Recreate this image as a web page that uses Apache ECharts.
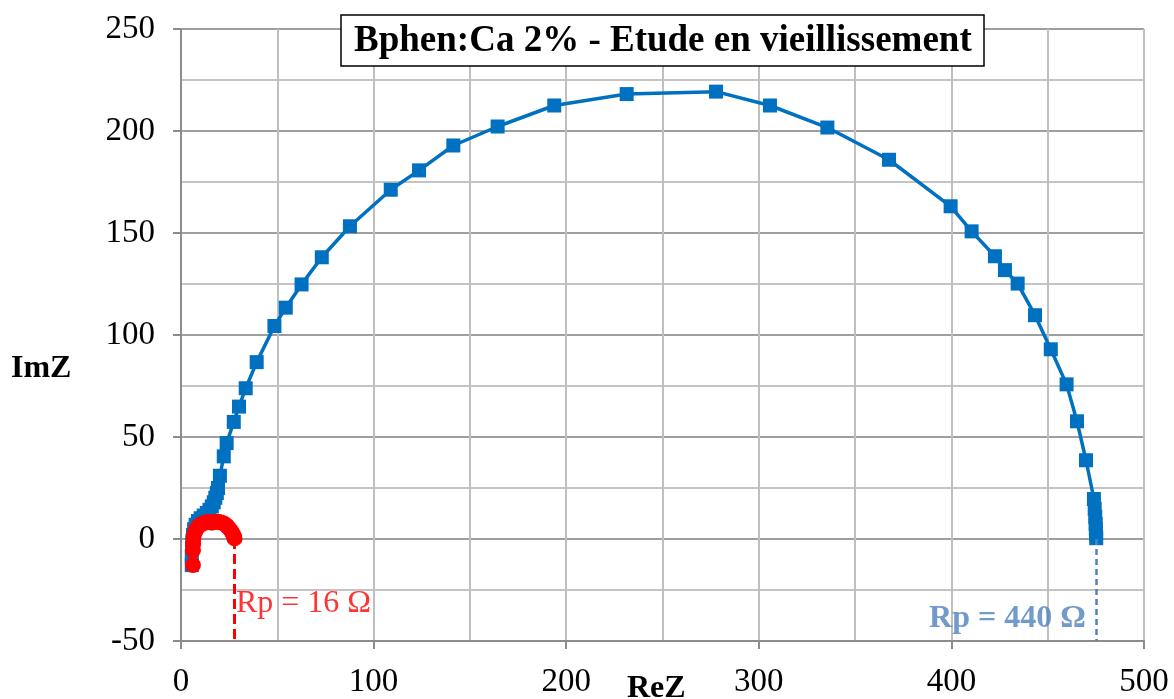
<!DOCTYPE html>
<html>
<head>
<meta charset="utf-8">
<script src="https://cdn.jsdelivr.net/npm/echarts@6/dist/echarts.min.js"></script>
<style>
  html, body { margin: 0; padding: 0; background: #fff; }
  #chart { width: 1174px; height: 699px; }
</style>
</head>
<body>
<div id="chart"></div>
<script>
// Nyquist data: real part (ReZ) and imaginary part (ImZ), in ohms
const blueRe = [5.6, 5.6, 5.7, 5.9, 6.2, 6.8, 7.6, 8.8, 10.2, 11.8, 13.4, 14.8, 16.0, 17.0, 17.8, 18.6, 19.2, 20.2, 22.2, 23.7, 27.4, 30.1, 33.6, 39.3, 48.5, 54.4, 62.6, 73.1, 87.7, 108.9, 123.6, 141.4, 164.4, 193.8, 231.4, 277.8, 305.8, 335.6, 367.6, 399.6, 410.5, 422.6, 427.8, 434.4, 443.4, 451.6, 459.8, 465.2, 469.9, 474.0, 474.4, 474.7, 474.9, 475.0, 475.1, 475.2];
const blueIm = [-12.8, -8.5, -4.5, -1.0, 2.0, 4.8, 7.0, 8.8, 10.2, 11.5, 12.8, 14.3, 16.0, 18.0, 20.2, 22.5, 25.0, 31.0, 40.5, 47.0, 57.4, 64.9, 73.9, 86.7, 104.4, 113.4, 124.8, 138.1, 153.3, 171.2, 180.7, 192.9, 202.2, 212.5, 218.1, 219.3, 212.5, 201.7, 185.9, 163.1, 150.8, 138.6, 131.8, 125.2, 109.7, 93.0, 75.8, 57.7, 38.6, 19.6, 14.8, 10.9, 7.4, 4.8, 2.4, 0.4];

const redRe = [6.2, 6.2, 6.3, 6.4, 6.8, 7.6, 8.6, 9.8, 11.2, 12.8, 14.4, 16.0, 17.6, 19.2, 20.8, 22.4, 23.8, 25.0, 26.1, 27.0, 27.5, 27.8];
const redIm = [-12.8, -5.5, -2.5, 0.0, 2.3, 4.2, 5.7, 6.8, 7.6, 8.1, 8.3, 8.0, 8.3, 8.4, 8.1, 7.5, 6.5, 5.2, 3.8, 2.4, 1.2, 0.3];

// end of each semicircle on the real axis, and the Rp annotations
const redEnd = 27.8;
const blueEnd = 475.1;
const redLabel = 'Rp = 16 Ω';
const blueLabel = 'Rp = 440 Ω';
const redLabelPos = [28.5, -31.8];
const blueLabelPos = [388.4, -39.1];

const xTicks = [0, 100, 200, 300, 400, 500];
const yTicks = [-50, 0, 50, 100, 150, 200, 250];

const titleText = 'Bphen:Ca 2% - Etude en vieillissement';
const xName = 'ReZ';
const yName = 'ImZ';

const zip = (a, b) => a.map((v, i) => [v, b[i]]);

const FONT = '"Liberation Serif", "Times New Roman", serif';
const BLUE = '#0070C0';
const RED = '#FF0000';
const RP_BLUE = '#4F81BD';

const chart = echarts.init(document.getElementById('chart'), null, { renderer: 'canvas' });

chart.setOption({
  animation: false,
  backgroundColor: '#fff',
  title: {
    text: titleText,
    left: 341,
    top: 15,
    padding: [6, 13, 5, 13],
    borderColor: '#000',
    borderWidth: 1.5,
    backgroundColor: '#fff',
    textStyle: { fontFamily: FONT, fontWeight: 'bold', fontSize: 37, lineHeight: 40, color: '#000' }
  },
  grid: { left: 181, right: 30, top: 29, bottom: 57, containLabel: false },
  xAxis: {
    type: 'value',
    min: xTicks[0],
    max: xTicks[xTicks.length - 1],
    interval: 100,
    axisLine: { onZero: false, lineStyle: { color: '#8c8c8c', width: 2 } },
    axisTick: { show: true, length: 8, lineStyle: { color: '#8c8c8c', width: 2 } },
    axisLabel: { margin: 25, fontFamily: FONT, fontSize: 33, color: '#000' },
    splitLine: { show: true, lineStyle: { color: '#bfbfbf', width: 2 } },
    minorTick: { show: false, splitNumber: 2 },
    minorSplitLine: { show: true, lineStyle: { color: '#bfbfbf', width: 2 } }
  },
  yAxis: {
    type: 'value',
    min: yTicks[0],
    max: yTicks[yTicks.length - 1],
    interval: 50,
    axisLine: { show: true, onZero: false, lineStyle: { color: '#8c8c8c', width: 2 } },
    axisTick: { show: true, length: 8, lineStyle: { color: '#8c8c8c', width: 2 } },
    axisLabel: { margin: 26, fontFamily: FONT, fontSize: 33, color: '#000' },
    splitLine: { show: true, lineStyle: { color: '#9e9e9e', width: 2 } },
    minorTick: { show: false, splitNumber: 2 },
    minorSplitLine: { show: true, lineStyle: { color: '#c4c4c4', width: 2 } }
  },
  graphic: [
    { type: 'text', left: 11, top: 353, style: { text: yName, fontFamily: FONT, fontWeight: 'bold', fontSize: 32, fill: '#000' } },
    { type: 'text', left: 627, top: 673, style: { text: xName, fontFamily: FONT, fontWeight: 'bold', fontSize: 32, fill: '#000' } }
  ],
  series: [
    {
      name: 'blue',
      type: 'line',
      data: zip(blueRe, blueIm),
      symbol: 'rect',
      symbolSize: 14,
      showAllSymbol: true,
      lineStyle: { color: BLUE, width: 3.5 },
      itemStyle: { color: BLUE },
      z: 3,
      markLine: {
        silent: true,
        symbol: 'none',
        label: { show: false },
        lineStyle: { color: RP_BLUE, width: 2.5, type: [6, 4] },
        data: [[{ coord: [blueEnd, 0] }, { coord: [blueEnd, -50] }]]
      }
    },
    {
      name: 'red',
      type: 'line',
      data: zip(redRe, redIm),
      symbol: 'circle',
      symbolSize: 16,
      showAllSymbol: true,
      lineStyle: { color: RED, width: 4 },
      itemStyle: { color: RED },
      z: 4,
      markLine: {
        silent: true,
        symbol: 'none',
        label: { show: false },
        lineStyle: { color: RED, width: 3, type: [10, 5] },
        data: [[{ coord: [redEnd, 0] }, { coord: [redEnd, -50] }]]
      }
    },
    {
      name: 'rpLabels',
      type: 'scatter',
      symbolSize: 0,
      silent: true,
      z: 5,
      data: [
        { value: redLabelPos, label: { formatter: redLabel, color: RED, fontWeight: 'normal' } },
        { value: blueLabelPos, label: { formatter: blueLabel, color: RP_BLUE, fontWeight: 'bold' } }
      ],
      label: {
        show: true,
        position: 'right',
        distance: 0,
        fontFamily: FONT,
        fontSize: 32
      }
    }
  ]
});
</script>
</body>
</html>
